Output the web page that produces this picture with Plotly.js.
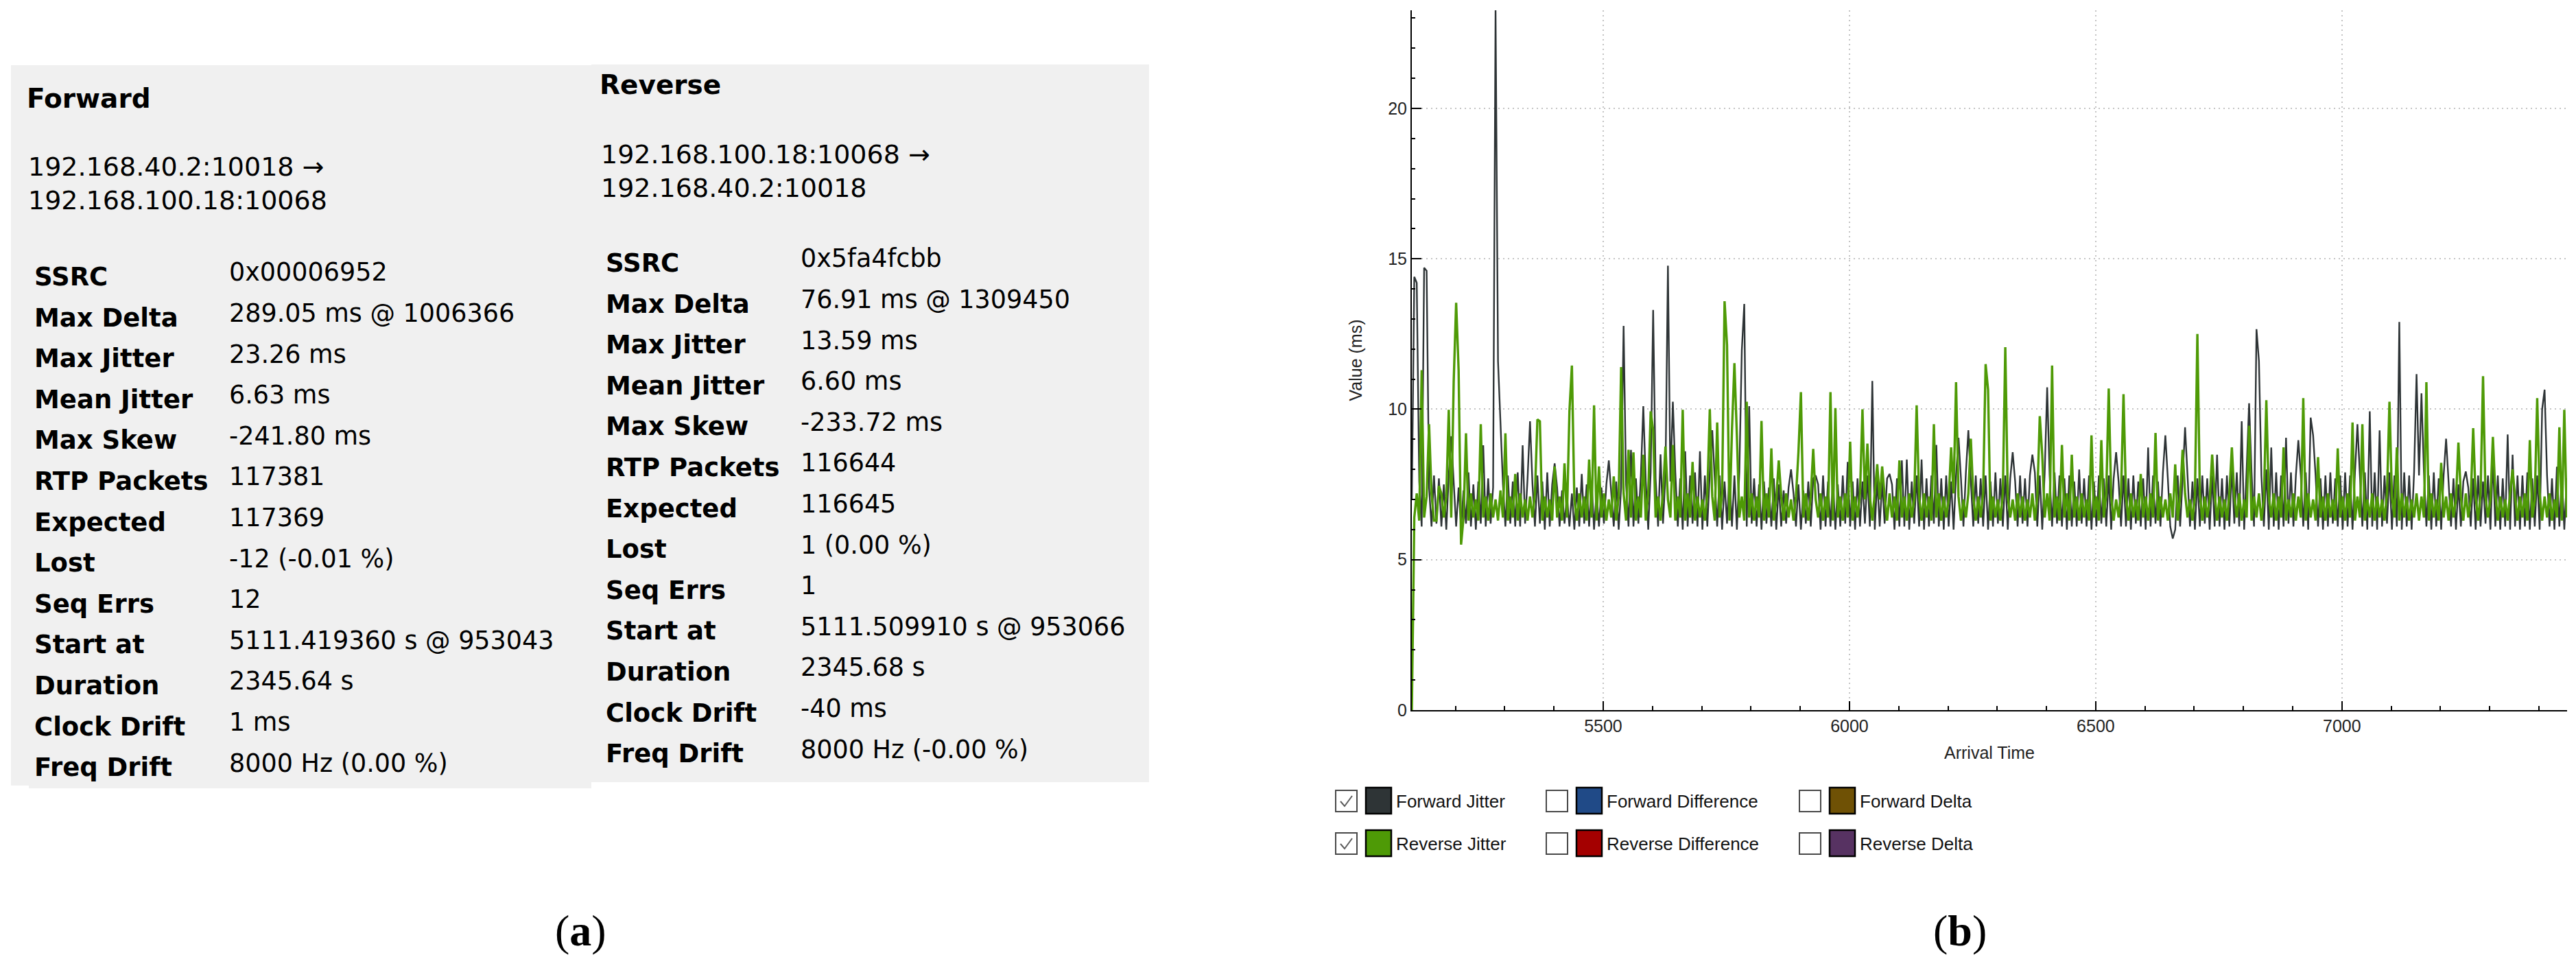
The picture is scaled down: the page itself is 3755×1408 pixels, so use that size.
<!DOCTYPE html>
<html>
<head>
<meta charset="utf-8">
<script src="https://cdn.plot.ly/plotly-3.0.1.min.js"></script>
<style>
  html, body { margin: 0; padding: 0; background: #fff; }
  #figure { width: 3755px; height: 1408px; }
</style>
</head>
<body>
<div id="figure"></div>
<script>
const W = 3755;
const H = 1408;

// (a) RTP stream analysis, forward and reverse
const statLabels = [
  "SSRC", "Max Delta", "Max Jitter", "Mean Jitter", "Max Skew", "RTP Packets", "Expected",
  "Lost", "Seq Errs", "Start at", "Duration", "Clock Drift", "Freq Drift",
];
const forwardStats = [
  "0x00006952", "289.05 ms @ 1006366", "23.26 ms", "6.63 ms", "-241.80 ms", "117381", "117369",
  "-12 (-0.01 %)", "12", "5111.419360 s @ 953043", "2345.64 s", "1 ms", "8000 Hz (0.00 %)",
];
const reverseStats = [
  "0x5fa4fcbb", "76.91 ms @ 1309450", "13.59 ms", "6.60 ms", "-233.72 ms", "116644", "116645",
  "1 (0.00 %)", "1", "5111.509910 s @ 953066", "2345.68 s", "-40 ms", "8000 Hz (-0.00 %)",
];
const forwardEndpoints = ["192.168.40.2:10018 →", "192.168.100.18:10068"];
const reverseEndpoints = ["192.168.100.18:10068 →", "192.168.40.2:10018"];

// (b) jitter over arrival time, one sample every 5 s
const arrivalStart = 5111.42;
const sampleStep = 5;
const timeRange = [5111.42, 7457.06];
const jitterRange = [0, 23.26];

const forwardJitter = [
  7.0, 14.4, 14.2, 7.6, 6.1, 14.7, 14.6, 7.4, 6.1, 7.8,
  6.2, 7.7, 6.1, 7.5, 6.0, 7.8, 9.1, 7.6, 6.1, 7.4,
  6.1, 7.3, 6.2, 7.9, 6.1, 7.5, 6.0, 7.6, 6.2, 8.8,
  6.1, 7.7, 6.2, 7.4, 23.26, 11.6, 9.56, 7.5, 6.1, 7.8,
  6.2, 7.6, 6.1, 7.9, 6.1, 8.8, 6.2, 7.7, 9.6, 7.5,
  6.1, 7.8, 6.2, 7.6, 6.0, 7.9, 6.1, 7.5, 8.2, 7.4,
  6.1, 7.3, 6.2, 7.1, 6.1, 7.2, 6.0, 7.4, 6.1, 7.85,
  6.2, 7.5, 6.1, 7.6, 6.0, 7.3, 6.1, 7.4, 6.2, 7.5,
  8.3, 7.2, 6.1, 7.6, 6.0, 7.4, 12.77, 7.5, 6.1, 8.65,
  6.1, 7.7, 6.2, 7.8, 10.1, 7.6, 6.0, 7.9, 13.3, 7.7,
  6.1, 8.5, 6.2, 7.8, 14.77, 7.6, 10.25, 7.9, 6.1, 7.7,
  6.0, 8.6, 6.1, 7.8, 6.2, 7.9, 6.1, 8.6, 6.0, 7.8,
  6.1, 7.9, 9.3, 7.7, 6.1, 7.8, 6.0, 7.6, 6.2, 7.9,
  6.1, 7.8, 6.0, 7.9, 11.96, 13.5, 6.1, 10.1, 6.2, 7.7,
  6.1, 7.5, 6.0, 7.6, 6.2, 7.4, 6.1, 7.7, 6.0, 7.5,
  6.1, 7.3, 6.2, 7.4, 8.0, 7.2, 6.1, 7.5, 6.0, 7.3,
  6.2, 7.6, 6.1, 7.7, 7.8, 7.5, 6.0, 7.8, 6.1, 7.6,
  6.1, 7.7, 6.0, 7.5, 6.1, 7.8, 6.2, 8.25, 6.1, 7.6,
  6.0, 7.7, 6.1, 7.6, 6.2, 7.8, 6.1, 10.94, 6.0, 7.7,
  6.1, 7.6, 6.2, 7.7, 7.85, 7.5, 6.0, 7.7, 6.1, 8.3,
  6.1, 8.33, 6.0, 7.6, 6.2, 7.8, 6.1, 8.33, 6.0, 7.7,
  6.1, 7.8, 6.2, 8.81, 6.1, 7.7, 6.0, 7.8, 6.1, 7.6,
  6.0, 7.8, 9.05, 7.7, 6.1, 7.9, 9.3, 7.6, 6.1, 7.8,
  6.2, 7.7, 6.1, 7.8, 6.0, 7.6, 6.1, 7.9, 6.2, 7.7,
  6.1, 7.8, 6.0, 7.7, 8.57, 7.6, 6.1, 7.8, 6.2, 7.7,
  6.1, 7.8, 8.49, 7.9, 6.1, 7.8, 6.0, 7.9, 10.73, 7.8,
  6.1, 7.9, 6.2, 7.8, 6.1, 7.7, 6.0, 7.8, 6.1, 7.6,
  6.1, 8.0, 6.2, 7.7, 6.1, 7.8, 6.0, 7.6, 6.1, 7.8,
  6.2, 7.7, 6.1, 7.8, 6.0, 7.7, 8.57, 7.6, 6.1, 7.8,
  6.1, 7.7, 6.0, 7.8, 6.2, 7.6, 6.1, 7.7, 6.0, 8.73,
  6.1, 7.8, 6.2, 7.6, 6.1, 7.9, 9.13, 7.7, 6.1, 5.7,
  6.0, 7.8, 6.1, 7.7, 9.4, 7.8, 6.1, 7.6, 6.0, 7.7,
  6.1, 7.8, 6.2, 7.7, 6.0, 7.8, 6.1, 8.49, 6.1, 7.7,
  6.0, 7.8, 6.1, 8.09, 6.2, 7.9, 6.1, 9.6, 6.0, 8.0,
  10.2, 7.9, 6.1, 12.66, 11.6, 7.8, 6.1, 8.0, 6.0, 8.73,
  6.1, 7.9, 6.0, 7.8, 6.1, 9.05, 6.2, 7.9, 6.1, 7.8,
  8.97, 7.8, 6.1, 7.9, 6.0, 9.72, 9.13, 7.8, 6.1, 7.7,
  6.0, 7.8, 6.1, 7.9, 6.2, 7.7, 6.1, 7.8, 6.0, 7.9,
  6.1, 7.8, 6.0, 7.9, 9.5, 7.8, 6.1, 7.9, 6.0, 9.93,
  6.1, 7.9, 6.0, 9.3, 6.1, 7.8, 6.2, 7.9, 6.0, 7.8,
  6.1, 12.9, 6.0, 7.9, 6.1, 7.8, 6.0, 7.9, 11.17, 7.8,
  10.53, 7.9, 6.1, 7.8, 6.0, 7.9, 6.1, 7.7, 6.0, 7.8,
  9.02, 7.6, 6.1, 7.7, 6.0, 7.5, 6.1, 7.6, 7.93, 7.4,
  6.1, 7.7, 6.0, 7.8, 6.1, 7.6, 6.2, 7.8, 6.0, 8.33,
  6.1, 7.8, 6.0, 7.7, 6.1, 9.16, 6.0, 8.49, 6.1, 7.8,
  6.0, 7.8, 6.1, 7.9, 6.0, 7.7, 6.1, 7.8, 6.0, 10.0,
  10.65, 7.8, 6.1, 7.7, 6.0, 8.09, 6.1, 7.8, 6.0, 7.7,
];

const reverseJitter = [
  0, 6.4, 7.2, 6.3, 11.3, 6.4, 7.1, 9.5, 7.2, 6.3,
  6.3, 7.45, 7.2, 6.4, 7.1, 9.98, 6.4, 10.9, 13.54, 11.3,
  5.5, 6.4, 9.2, 6.3, 7.2, 6.4, 7.0, 6.3, 9.5, 6.4,
  7.1, 6.3, 7.2, 6.4, 7.0, 6.3, 7.3, 6.4, 9.2, 6.3,
  7.1, 6.4, 7.85, 6.3, 7.2, 6.4, 7.0, 6.3, 7.1, 6.4,
  7.2, 9.66, 9.6, 6.3, 7.1, 6.4, 7.0, 6.3, 8.1, 6.4,
  7.1, 6.3, 8.2, 6.4, 9.93, 11.45, 7.0, 6.3, 7.2, 6.4,
  7.1, 6.3, 8.33, 6.4, 10.13, 6.3, 8.1, 6.4, 7.2, 6.3,
  7.0, 6.4, 7.77, 6.3, 7.1, 11.4, 7.2, 6.3, 8.65, 6.4,
  8.57, 6.3, 7.1, 6.4, 8.49, 6.3, 7.2, 9.93, 9.3, 6.4,
  7.1, 6.3, 7.2, 8.76, 7.0, 6.4, 8.81, 6.3, 7.1, 6.4,
  9.98, 6.3, 7.2, 6.4, 8.25, 6.3, 7.1, 6.4, 7.0, 6.3,
  7.2, 10.0, 7.1, 6.3, 9.56, 6.4, 7.2, 13.59, 12.13, 6.3,
  9.3, 11.53, 9.13, 6.4, 7.1, 6.3, 10.25, 6.4, 7.2, 6.3,
  7.1, 6.4, 9.61, 6.3, 7.2, 6.4, 8.7, 6.3, 7.0, 8.3,
  7.1, 6.3, 7.2, 6.4, 7.0, 6.3, 7.1, 8.57, 10.57, 6.4,
  7.2, 6.3, 7.1, 8.68, 7.0, 6.4, 7.2, 6.3, 7.1, 6.4,
  10.57, 6.3, 10.04, 6.4, 7.1, 6.3, 7.2, 6.4, 8.92, 6.3,
  7.1, 6.4, 7.2, 10.0, 7.0, 8.86, 7.1, 6.3, 7.2, 8.17,
  7.0, 8.1, 7.1, 6.3, 7.2, 6.4, 7.1, 6.3, 8.3, 6.4,
  7.1, 6.3, 7.2, 6.4, 7.0, 10.13, 7.1, 6.3, 7.2, 6.4,
  7.1, 6.3, 9.5, 6.4, 7.2, 6.3, 7.1, 6.4, 7.0, 8.73,
  7.2, 10.9, 7.1, 6.3, 7.0, 6.4, 7.2, 9.02, 7.1, 6.3,
  7.1, 6.4, 7.2, 11.5, 10.65, 6.3, 7.1, 6.4, 7.0, 6.3,
  7.2, 12.06, 7.1, 6.4, 7.0, 6.3, 7.2, 6.4, 7.1, 6.3,
  7.0, 6.4, 7.2, 6.3, 7.1, 9.77, 8.49, 6.4, 7.2, 6.3,
  11.45, 6.4, 7.1, 6.3, 8.81, 6.4, 7.2, 6.3, 8.49, 6.4,
  7.1, 6.3, 7.2, 6.4, 7.0, 6.3, 9.13, 6.4, 7.1, 6.3,
  8.97, 6.4, 7.2, 10.69, 7.1, 6.3, 7.0, 6.4, 7.2, 10.5,
  7.1, 6.3, 7.2, 6.4, 7.0, 6.3, 7.85, 6.4, 7.1, 6.3,
  7.2, 6.4, 9.21, 6.3, 7.1, 6.4, 7.0, 6.3, 7.2, 6.4,
  8.17, 6.3, 7.1, 8.65, 7.2, 6.4, 7.0, 6.3, 7.1, 12.5,
  7.2, 6.3, 7.1, 6.4, 7.0, 8.49, 7.2, 6.3, 7.1, 6.4,
  7.0, 6.3, 7.2, 8.73, 7.1, 6.4, 7.2, 6.3, 7.0, 6.4,
  9.45, 6.3, 7.1, 6.4, 7.2, 6.3, 7.0, 10.3, 7.1, 6.4,
  7.2, 6.3, 7.1, 6.4, 8.73, 6.3, 7.0, 6.4, 7.2, 6.3,
  7.1, 6.4, 10.37, 6.3, 7.2, 6.4, 7.0, 6.3, 8.41, 6.4,
  7.1, 6.3, 7.2, 6.4, 7.0, 6.3, 8.7, 6.4, 7.1, 6.3,
  7.2, 6.4, 9.56, 6.3, 7.1, 6.4, 9.5, 6.3, 7.0, 6.4,
  7.2, 6.3, 7.1, 6.4, 7.0, 6.3, 7.2, 10.25, 7.1, 6.4,
  8.73, 6.3, 7.2, 6.4, 7.1, 6.3, 7.0, 6.4, 7.2, 6.3,
  7.1, 6.4, 10.9, 6.3, 7.2, 6.4, 7.0, 6.3, 8.22, 6.4,
  7.1, 6.3, 7.2, 6.4, 7.0, 8.89, 7.1, 6.3, 7.2, 6.4,
  7.0, 9.37, 7.1, 6.3, 7.2, 11.1, 7.1, 6.4, 7.0, 9.08,
  7.2, 6.3, 7.1, 6.4, 7.0, 6.3, 7.2, 8.0, 7.1, 6.3,
  7.1, 6.4, 7.2, 6.3, 8.97, 6.4, 7.0, 10.37, 7.2, 6.3,
  7.1, 6.4, 7.2, 6.3, 7.0, 6.4, 9.4, 6.3, 9.98, 6.4,
];

const legendNames = [
  "Forward Jitter", "Forward Difference", "Forward Delta",
  "Reverse Jitter", "Reverse Difference", "Reverse Delta",
];
const legendColors = ["#2e3436", "#204a87", "#6f5105", "#4e9a06", "#a40000", "#573262"];
const legendChecked = [true, false, false, true, false, false];

// layout helpers (pixel -> paper)
const px = (x) => x / W;
const py = (y) => 1 - y / H;

const PANEL = "#f0f0f0";
const ROW_H = 59.6;
const TEXT_FONT = "DejaVu Sans";
const CHART_FONT = "Liberation Sans";

function statsTable(values, left, right, top) {
  // plotly grows a row when text + padding is taller than it, so sizes stay at 37/36.5
  const rowFont = { family: TEXT_FONT, size: [37, 36.5], color: "#000" };
  const bold = (s) => `<b>${s}</b>`;
  return {
    type: "table",
    domain: { x: [px(left), px(right)], y: [py(top + ROW_H * statLabels.length + 40), py(top)] },
    columnwidth: [284, right - left - 284],
    header: {
      values: [[bold(statLabels[0])], [values[0]]],
      height: ROW_H,
      align: "left",
      fill: { color: PANEL },
      line: { color: PANEL, width: 0 },
      font: rowFont,
    },
    cells: {
      values: [statLabels.slice(1).map(bold), values.slice(1)],
      height: ROW_H,
      align: "left",
      fill: { color: PANEL },
      line: { color: PANEL, width: 0 },
      font: rowFont,
    },
  };
}

const forwardTrace = {
  type: "scatter",
  mode: "lines",
  name: "Forward Jitter",
  x0: arrivalStart,
  dx: sampleStep,
  y: forwardJitter,
  line: { color: legendColors[0], width: 2.4 },
  hoverinfo: "skip",
};
const reverseTrace = {
  type: "scatter",
  mode: "lines",
  name: "Reverse Jitter",
  x0: arrivalStart,
  dx: sampleStep,
  y: reverseJitter,
  line: { color: legendColors[3], width: 3.4 },
  hoverinfo: "skip",
};

const shapes = [
  { type: "rect", xref: "paper", yref: "paper", layer: "below",
    x0: px(16), x1: px(862), y0: py(1145), y1: py(95), fillcolor: PANEL, line: { width: 0 } },
  { type: "rect", xref: "paper", yref: "paper", layer: "below",
    x0: px(862), x1: px(1675), y0: py(1140), y1: py(94), fillcolor: PANEL, line: { width: 0 } },
];

function note(text, x, y, font, extra) {
  return Object.assign({
    text, x: px(x), y: py(y), xref: "paper", yref: "paper",
    xanchor: "left", yanchor: "middle", align: "left", showarrow: false, font,
  }, extra || {});
}

const annotations = [
  note("<b>Forward</b>", 37, 143, { family: TEXT_FONT, size: 39, color: "#000" }),
  note(forwardEndpoints.join("<br>"), 39, 268, { family: TEXT_FONT, size: 38, color: "#000" }),
  note("<b>Reverse</b>", 872, 123, { family: TEXT_FONT, size: 39, color: "#000" }),
  note(reverseEndpoints.join("<br>"), 874, 249, { family: TEXT_FONT, size: 38, color: "#000" }),
  note("(<b>a</b>)", 846, 1356, { family: "Liberation Serif", size: 64, color: "#000" }, { xanchor: "center" }),
  note("(<b>b</b>)", 2857, 1356, { family: "Liberation Serif", size: 64, color: "#000" }, { xanchor: "center" }),
];

// checkbox legend under the plot
const legendCols = [1947, 2254, 2623];
const legendRows = [1167, 1229];
legendNames.forEach((name, i) => {
  const x = legendCols[i % 3];
  const yc = legendRows[Math.floor(i / 3)];
  shapes.push({ type: "rect", xref: "paper", yref: "paper",
    x0: px(x), x1: px(x + 31), y0: py(yc + 16), y1: py(yc - 15),
    fillcolor: "#fff", line: { color: "#484848", width: 2 } });
  if (legendChecked[i]) {
    shapes.push({ type: "path", xref: "paper", yref: "paper",
      path: `M ${px(x + 7)},${py(yc + 1)} L ${px(x + 13)},${py(yc + 8)} L ${px(x + 24)},${py(yc - 7)}`,
      line: { color: "#5a5a5a", width: 2 } });
  }
  shapes.push({ type: "rect", xref: "paper", yref: "paper",
    x0: px(x + 44), x1: px(x + 81), y0: py(yc + 19), y1: py(yc - 19),
    fillcolor: legendColors[i], line: { color: "#000", width: 2.5 } });
  annotations.push(note(name, x + 86, yc + 1, { family: CHART_FONT, size: 26, color: "#111" }));
});

const axisCommon = {
  showline: true, linecolor: "#000", linewidth: 2,
  ticks: "inside", tickcolor: "#000", tickwidth: 2,
  showgrid: true, gridcolor: "#c4c4c4", gridwidth: 2, griddash: "2px,5px",
  zeroline: false,
  tickfont: { family: CHART_FONT, size: 25, color: "#222" },
};

const layout = {
  width: W,
  height: H,
  margin: { l: 0, r: 0, t: 0, b: 0 },
  paper_bgcolor: "#fff",
  plot_bgcolor: "#fff",
  showlegend: false,
  xaxis: Object.assign({}, axisCommon, {
    domain: [px(2058), px(3742)],
    range: timeRange,
    tick0: 5000, dtick: 500, ticklen: 13,
    minor: { dtick: 100, ticks: "inside", ticklen: 6, tickwidth: 2, tickcolor: "#000", showgrid: false },
    title: { text: "Arrival Time", standoff: 17, font: { family: CHART_FONT, size: 25, color: "#222" } },
  }),
  yaxis: Object.assign({}, axisCommon, {
    domain: [py(1035), py(15)],
    range: jitterRange,
    tick0: 0, dtick: 5, ticklen: 14,
    minor: { dtick: 1, ticks: "inside", ticklen: 5, tickwidth: 2, tickcolor: "#000", showgrid: false },
    title: { text: "Value (ms)", standoff: 30, font: { family: CHART_FONT, size: 25, color: "#222" } },
  }),
  shapes,
  annotations,
};

Plotly.newPlot(
  "figure",
  [statsTable(forwardStats, 42, 862, 374), statsTable(reverseStats, 875, 1675, 354), forwardTrace, reverseTrace],
  layout,
  { staticPlot: true, displayModeBar: false }
);
</script>
</body>
</html>
